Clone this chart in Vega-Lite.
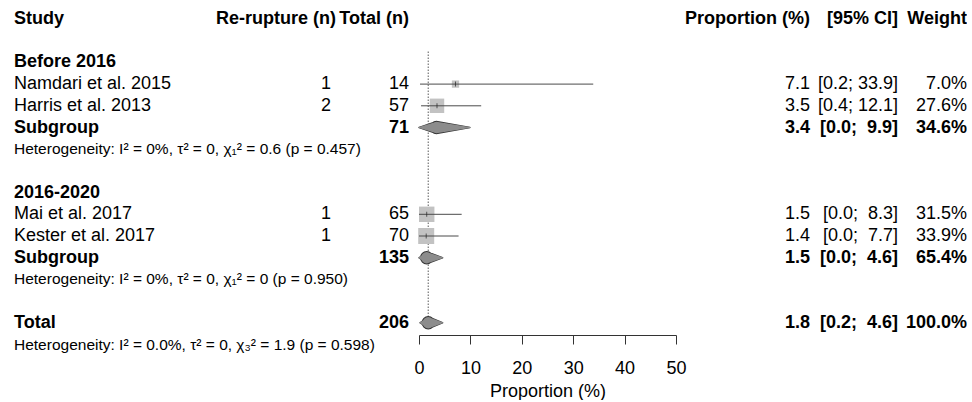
{
  "$schema": "https://vega.github.io/schema/vega-lite/v6.json",
  "padding": {"left": 14, "top": 0, "right": 0, "bottom": 0},
  "autosize": {"type": "pad"},
  "spacing": 10,
  "bounds": "flush",
  "config": {
    "view": {"stroke": null},
    "font": "Liberation Sans",
    "text": {"font": "Liberation Sans", "fontSize": 18, "color": "#000", "baseline": "middle"},
    "axis": {
      "domainColor": "#333", "tickColor": "#333", "tickSize": 9, "domainWidth": 1, "tickWidth": 1,
      "labelFont": "Liberation Sans", "labelFontSize": 18, "labelColor": "#000", "labelPadding": 15,
      "labelFlush": false, "labelOverlap": false, "grid": false,
      "titleFont": "Liberation Sans", "titleFontSize": 18, "titleFontWeight": "normal", "titleColor": "#000", "titlePadding": 5
    }
  },
  "datasets": {
    "rows": [
      {"row": 0, "kind": "header", "study": "Study", "events": "Re-rupture (n)", "total": "Total (n)", "prop": "Proportion (%)", "ci": "[95% CI]", "weight": "Weight"},
      {"row": 2, "kind": "group", "study": "Before 2016"},
      {"row": 3, "kind": "study", "study": "Namdari et al. 2015", "events": "1", "total": "14", "prop": "7.1", "ci": "[0.2; 33.9]", "weight": "7.0%"},
      {"row": 4, "kind": "study", "study": "Harris et al. 2013", "events": "2", "total": "57", "prop": "3.5", "ci": "[0.4; 12.1]", "weight": "27.6%"},
      {"row": 5, "kind": "subgroup", "study": "Subgroup", "total": "71", "prop": "3.4", "ci": "[0.0;\u00a0 9.9]", "weight": "34.6%"},
      {"row": 6, "kind": "het", "study": "Heterogeneity: I² = 0%, τ² = 0, χ₁² = 0.6 (p = 0.457)"},
      {"row": 8, "kind": "group", "study": "2016-2020"},
      {"row": 9, "kind": "study", "study": "Mai et al. 2017", "events": "1", "total": "65", "prop": "1.5", "ci": "[0.0;\u00a0 8.3]", "weight": "31.5%"},
      {"row": 10, "kind": "study", "study": "Kester et al. 2017", "events": "1", "total": "70", "prop": "1.4", "ci": "[0.0;\u00a0 7.7]", "weight": "33.9%"},
      {"row": 11, "kind": "subgroup", "study": "Subgroup", "total": "135", "prop": "1.5", "ci": "[0.0;\u00a0 4.6]", "weight": "65.4%"},
      {"row": 12, "kind": "het", "study": "Heterogeneity: I² = 0%, τ² = 0, χ₁² = 0 (p = 0.950)"},
      {"row": 14, "kind": "total", "study": "Total", "total": "206", "prop": "1.8", "ci": "[0.2;\u00a0 4.6]", "weight": "100.0%"},
      {"row": 15, "kind": "het", "study": "Heterogeneity: I² = 0.0%, τ² = 0, χ₃² = 1.9 (p = 0.598)"}
    ],
    "studies": [
      {"row": 3, "est": 7.1, "lower": 0.2, "upper": 33.9, "weight": 7.0},
      {"row": 4, "est": 3.5, "lower": 0.4, "upper": 12.1, "weight": 27.6},
      {"row": 9, "est": 1.5, "lower": 0.0, "upper": 8.3, "weight": 31.5},
      {"row": 10, "est": 1.4, "lower": 0.0, "upper": 7.7, "weight": 33.9}
    ],
    "diamonds": [
      {"row": 5, "est": 3.4, "lower": 0.0, "upper": 9.9},
      {"row": 11, "est": 1.5, "lower": 0.0, "upper": 4.6},
      {"row": 14, "est": 1.8, "lower": 0.2, "upper": 4.6}
    ]
  },
  "hconcat": [
    {
      "width": 317, "height": 335,
      "data": {"name": "rows"},
      "encoding": {"y": {"field": "row", "type": "quantitative", "scale": {"domain": [0, 15], "range": [19, 344.5], "nice": false, "zero": false}, "axis": null}},
      "layer": [
        {"transform": [{"filter": "datum.kind == 'study'"}], "mark": {"type": "text", "align": "left", "fontSize": 18}, "encoding": {"x": {"value": 0}, "text": {"field": "study"}}},
        {"transform": [{"filter": "datum.kind == 'header' || datum.kind == 'group' || datum.kind == 'subgroup' || datum.kind == 'total'"}], "mark": {"type": "text", "align": "left", "fontSize": 18, "fontWeight": "bold"}, "encoding": {"x": {"value": 0}, "text": {"field": "study"}}},
        {"transform": [{"filter": "datum.kind == 'het'"}], "mark": {"type": "text", "align": "left", "fontSize": 15.5}, "encoding": {"x": {"value": 0}, "text": {"field": "study"}}},
        {"transform": [{"filter": "datum.kind == 'study'"}], "mark": {"type": "text", "align": "right", "fontSize": 18}, "encoding": {"x": {"value": "width"}, "text": {"field": "events"}}},
        {"transform": [{"filter": "datum.kind == 'header'"}], "mark": {"type": "text", "align": "right", "fontSize": 18, "fontWeight": "bold", "dx": 5}, "encoding": {"x": {"value": "width"}, "text": {"field": "events"}}}
      ]
    },
    {
      "width": 68, "height": 335,
      "data": {"name": "rows"},
      "encoding": {"y": {"field": "row", "type": "quantitative", "scale": {"domain": [0, 15], "range": [19, 344.5], "nice": false, "zero": false}, "axis": null}},
      "layer": [
        {"transform": [{"filter": "datum.kind == 'study'"}], "mark": {"type": "text", "align": "right", "fontSize": 18}, "encoding": {"x": {"value": "width"}, "text": {"field": "total"}}},
        {"transform": [{"filter": "datum.kind == 'header' || datum.kind == 'subgroup' || datum.kind == 'total'"}], "mark": {"type": "text", "align": "right", "fontSize": 18, "fontWeight": "bold"}, "encoding": {"x": {"value": "width"}, "text": {"field": "total"}}}
      ]
    },
    {
      "width": 257, "height": 335,
      "encoding": {"y": {"field": "row", "type": "quantitative", "scale": {"domain": [0, 15], "range": [19, 344.5], "nice": false, "zero": false}, "axis": null}},
      "layer": [
        {
          "data": {"name": "diamonds"},
          "transform": [{"filter": "datum.row == 14"}],
          "mark": {"type": "rule", "strokeDash": [1.5, 1.5], "color": "#777", "strokeWidth": 1.2},
          "encoding": {
            "x": {"field": "est", "type": "quantitative", "title": "Proportion (%)", "scale": {"domain": [0, 50], "nice": false, "zero": false}},
            "y": {"datum": 1.5, "type": "quantitative"},
            "y2": {"field": "row"}
          }
        },
        {
          "data": {"name": "studies"},
          "mark": {"type": "square", "color": "#c2c2c2", "opacity": 1},
          "encoding": {
            "x": {"field": "est", "type": "quantitative", "title": "Proportion (%)"},
            "size": {"field": "weight", "type": "quantitative", "scale": {"domain": [0, 33.9], "range": [0, 256]}, "legend": null}
          }
        },
        {
          "data": {"name": "studies"},
          "mark": {"type": "rule", "color": "#4a4a4a", "strokeWidth": 1},
          "encoding": {
            "x": {"field": "lower", "type": "quantitative", "title": "Proportion (%)"},
            "x2": {"field": "upper"}
          }
        },
        {
          "data": {"name": "studies"},
          "mark": {"type": "tick", "color": "#222", "thickness": 1, "size": 5, "orient": "vertical"},
          "encoding": {
            "x": {"field": "est", "type": "quantitative", "title": "Proportion (%)"}
          }
        },
        {
          "data": {"name": "diamonds"},
          "transform": [
            {"fold": ["lower", "est", "upper"], "as": ["bound", "value"]},
            {"window": [{"op": "row_number", "as": "k"}], "groupby": ["row"], "sort": [{"field": "value", "order": "ascending"}]}
          ],
          "mark": {"type": "trail", "color": "#333", "opacity": 1},
          "encoding": {
            "x": {"field": "value", "type": "quantitative", "title": "Proportion (%)"},
            "size": {"field": "k", "type": "quantitative", "scale": {"domain": [1, 2, 3], "range": [1.4, 13.4, 1.4], "zero": false, "nice": false}, "legend": null},
            "detail": {"field": "row", "type": "nominal"},
            "order": {"field": "k", "type": "quantitative"}
          }
        },
        {
          "data": {"name": "diamonds"},
          "transform": [
            {"fold": ["lower", "est", "upper"], "as": ["bound", "value"]},
            {"window": [{"op": "row_number", "as": "k"}], "groupby": ["row"], "sort": [{"field": "value", "order": "ascending"}]}
          ],
          "mark": {"type": "trail", "color": "#8c8c8c", "opacity": 1},
          "encoding": {
            "x": {"field": "value", "type": "quantitative", "title": "Proportion (%)"},
            "size": {"field": "k", "type": "quantitative", "scale": {"domain": [1, 2, 3], "range": [0, 11.4, 0], "zero": false, "nice": false}, "legend": null},
            "detail": {"field": "row", "type": "nominal"},
            "order": {"field": "k", "type": "quantitative"}
          }
        }
      ],
      "resolve": {"scale": {"size": "independent"}}
    },
    {
      "width": 124, "height": 335,
      "data": {"name": "rows"},
      "encoding": {"y": {"field": "row", "type": "quantitative", "scale": {"domain": [0, 15], "range": [19, 344.5], "nice": false, "zero": false}, "axis": null}},
      "layer": [
        {"transform": [{"filter": "datum.kind == 'study'"}], "mark": {"type": "text", "align": "right", "fontSize": 18}, "encoding": {"x": {"value": "width"}, "text": {"field": "prop"}}},
        {"transform": [{"filter": "datum.kind == 'header' || datum.kind == 'subgroup' || datum.kind == 'total'"}], "mark": {"type": "text", "align": "right", "fontSize": 18, "fontWeight": "bold"}, "encoding": {"x": {"value": "width"}, "text": {"field": "prop"}}}
      ]
    },
    {
      "width": 78, "height": 335,
      "data": {"name": "rows"},
      "encoding": {"y": {"field": "row", "type": "quantitative", "scale": {"domain": [0, 15], "range": [19, 344.5], "nice": false, "zero": false}, "axis": null}},
      "layer": [
        {"transform": [{"filter": "datum.kind == 'study'"}], "mark": {"type": "text", "align": "right", "fontSize": 18}, "encoding": {"x": {"value": "width"}, "text": {"field": "ci"}}},
        {"transform": [{"filter": "datum.kind == 'header' || datum.kind == 'subgroup' || datum.kind == 'total'"}], "mark": {"type": "text", "align": "right", "fontSize": 18, "fontWeight": "bold"}, "encoding": {"x": {"value": "width"}, "text": {"field": "ci"}}}
      ]
    },
    {
      "width": 59, "height": 335,
      "data": {"name": "rows"},
      "encoding": {"y": {"field": "row", "type": "quantitative", "scale": {"domain": [0, 15], "range": [19, 344.5], "nice": false, "zero": false}, "axis": null}},
      "layer": [
        {"transform": [{"filter": "datum.kind == 'study'"}], "mark": {"type": "text", "align": "right", "fontSize": 18}, "encoding": {"x": {"value": "width"}, "text": {"field": "weight"}}},
        {"transform": [{"filter": "datum.kind == 'header' || datum.kind == 'subgroup' || datum.kind == 'total'"}], "mark": {"type": "text", "align": "right", "fontSize": 18, "fontWeight": "bold"}, "encoding": {"x": {"value": "width"}, "text": {"field": "weight"}}}
      ]
    }
  ]
}
